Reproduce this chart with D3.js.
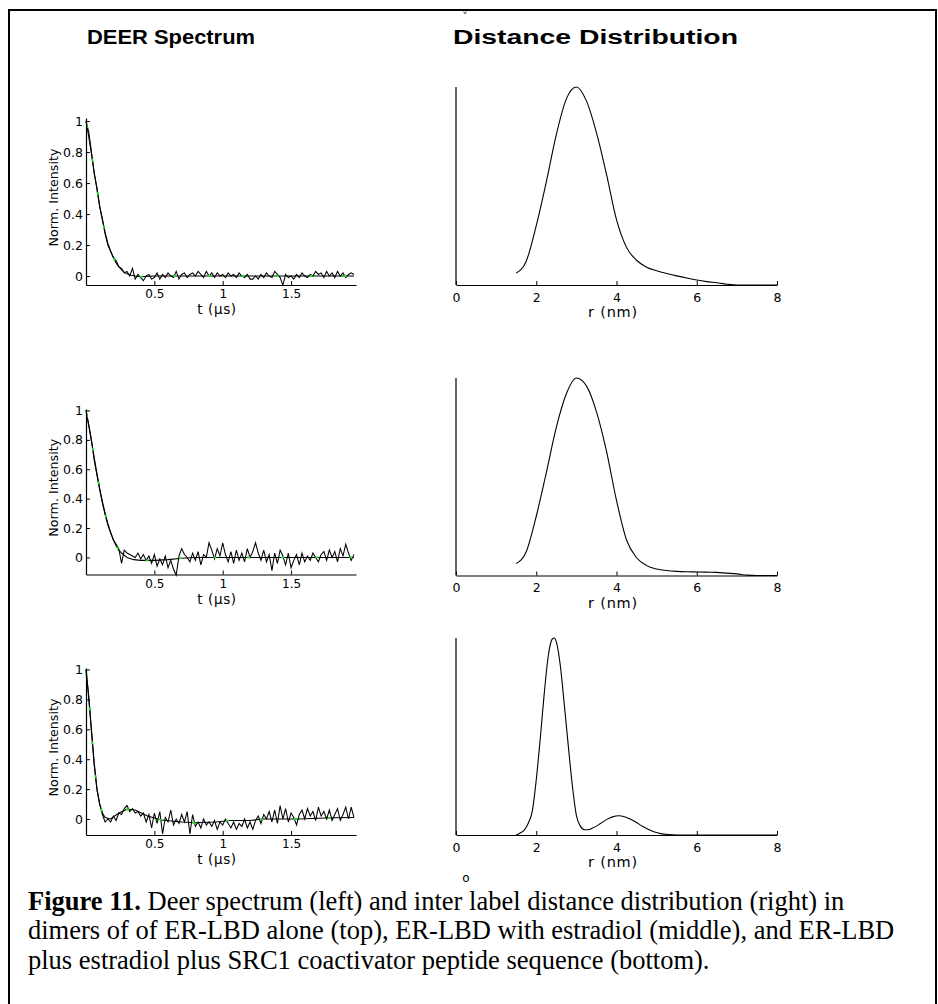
<!DOCTYPE html>
<html><head><meta charset="utf-8">
<script src="https://cdn.jsdelivr.net/npm/d3@7"></script>
<style>body{margin:0;background:#fff} svg{display:block}</style>
</head><body>
<svg id="c" width="938" height="1004"></svg>
<script>
// ---------- DATA ----------
const timeUs = [0,0.02,0.04,0.06,0.08,0.10,0.12,0.14,0.16,0.18,0.20,0.22,0.24,0.26,0.28,0.30,0.32,0.34,0.36,0.38,
0.40,0.42,0.44,0.46,0.48,0.50,0.52,0.54,0.56,0.58,0.60,0.62,0.64,0.66,0.68,0.70,0.72,0.74,0.76,0.78,
0.80,0.82,0.84,0.86,0.88,0.90,0.92,0.94,0.96,0.98,1.00,1.02,1.04,1.06,1.08,1.10,1.12,1.14,1.16,1.18,
1.20,1.22,1.24,1.26,1.28,1.30,1.32,1.34,1.36,1.38,1.40,1.42,1.44,1.46,1.48,1.50,1.52,1.54,1.56,1.58,
1.60,1.62,1.64,1.66,1.68,1.70,1.72,1.74,1.76,1.78,1.80,1.82,1.84,1.86,1.88,1.90,1.92,1.94,1.96];

const deerTop = [1.0,0.93,0.80,0.66,0.57,0.45,0.37,0.27,0.20,0.16,0.12,0.10,0.06,0.05,0.02,0.03,0.0,0.05,-0.02,0.01,
-0.01,-0.03,0.0,0.01,-0.02,-0.01,0.02,-0.02,0.01,-0.01,0.02,0.0,-0.01,0.03,-0.02,0.01,0.02,-0.01,0.01,0.02,
0.0,0.03,0.01,-0.01,0.03,0.0,0.02,-0.01,0.02,0.0,0.01,-0.01,0.02,0.0,0.01,-0.01,0.02,0.0,-0.01,0.01,
-0.02,-0.02,0.0,-0.02,0.01,-0.01,0.02,0.0,-0.01,0.03,0.01,-0.01,-0.06,0.01,-0.01,0.0,-0.02,0.01,-0.01,0.02,
0.0,-0.01,0.01,0.0,0.03,0.01,0.02,-0.01,0.03,0.0,0.02,-0.01,0.03,0.0,0.02,-0.01,0.01,0.02,0.01];

const deerMid = [1.0,0.90,0.80,0.66,0.56,0.46,0.37,0.29,0.22,0.17,0.12,0.09,0.06,-0.04,0.05,0.03,0.02,0.01,0.0,0.03,
-0.01,0.02,-0.02,0.01,-0.04,0.02,-0.06,-0.01,-0.05,0.01,-0.07,-0.02,-0.08,-0.12,0.01,0.06,0.02,0.0,-0.03,0.03,
-0.02,0.04,-0.05,0.02,0.0,0.10,0.05,-0.01,0.06,0.01,0.10,0.02,-0.03,0.04,-0.04,0.05,-0.02,0.03,-0.03,0.06,
0.0,0.04,0.10,0.03,-0.02,0.05,-0.03,0.02,-0.09,0.03,-0.04,0.05,0.01,-0.05,0.03,-0.07,-0.02,0.02,-0.05,0.03,
-0.03,0.01,-0.02,0.03,0.0,-0.03,0.02,0.04,-0.02,0.05,0.0,0.04,-0.03,0.06,0.01,0.09,0.03,-0.02,0.02];

const deerBot = [1.0,0.82,0.60,0.38,0.20,0.10,0.03,-0.02,0.0,-0.02,0.02,-0.01,0.04,0.03,0.07,0.09,0.05,0.07,0.04,0.05,
0.02,0.04,-0.02,0.03,-0.06,0.04,-0.03,0.05,-0.10,0.01,-0.02,0.06,-0.04,0.0,-0.03,0.03,-0.02,0.05,-0.10,0.03,
-0.05,-0.02,-0.06,0.0,-0.04,-0.02,-0.05,-0.01,-0.07,-0.02,-0.04,0.0,-0.03,-0.06,-0.02,-0.07,-0.03,-0.05,0.0,-0.06,
-0.02,-0.07,-0.01,0.02,-0.03,0.03,0.0,0.05,-0.02,0.06,-0.03,0.09,0.0,0.07,-0.02,0.04,0.01,-0.04,0.03,0.06,
0.0,0.07,0.02,0.05,-0.01,0.08,0.02,0.05,0.0,0.06,-0.01,0.03,0.07,-0.01,0.03,0.08,0.0,0.08,0.01];

const fitTopT = [0,0.02,0.04,0.06,0.08,0.10,0.12,0.14,0.16,0.18,0.20,0.22,0.24,0.26,0.28,0.30,0.33,0.36,0.40,0.50,1.96];
const fitTopV = [1.0,0.90,0.79,0.67,0.56,0.45,0.36,0.28,0.21,0.16,0.12,0.085,0.06,0.04,0.025,0.015,0.005,0.0,-0.005,0.0,0.0];

const fitMidT = [0,0.02,0.04,0.06,0.08,0.10,0.12,0.14,0.16,0.18,0.20,0.22,0.24,0.26,0.30,0.35,0.40,0.50,0.60,0.70,0.80,1.96];
const fitMidV = [1.0,0.90,0.79,0.68,0.57,0.47,0.38,0.30,0.23,0.17,0.12,0.08,0.05,0.03,0.0,-0.015,-0.02,-0.02,-0.015,-0.005,0.0,0.0];

const fitBotT = [0,0.02,0.04,0.06,0.08,0.10,0.12,0.14,0.18,0.24,0.30,0.36,0.45,0.55,0.70,0.80,0.95,1.05,1.20,1.30,1.55,1.80,1.96];
const fitBotV = [1.0,0.81,0.58,0.36,0.20,0.10,0.04,0.01,0.0,0.04,0.065,0.06,0.02,-0.007,-0.02,-0.025,-0.02,-0.01,-0.01,0.0,0.0,0.008,0.01];

const rTop = [1.5,1.75,2.0,2.25,2.5,2.75,3.0,3.25,3.5,3.75,4.0,4.25,4.5,4.75,5.0,5.25,5.5,5.75,6.0,6.25,6.5,6.75,7.0,7.25,7.5,7.75,8.0];
const pTop = [0.06,0.12,0.30,0.52,0.76,0.94,1.0,0.93,0.77,0.56,0.33,0.19,0.125,0.09,0.072,0.058,0.046,0.035,0.025,0.017,0.011,0.004,0.0,0.0,0.0,0.0,0.0];

const rMid = [1.5,1.75,2.0,2.25,2.5,2.75,3.0,3.25,3.5,3.75,4.0,4.25,4.5,4.75,5.0,5.25,5.5,5.75,6.0,6.25,6.5,6.75,7.0,7.25,7.5,7.75,8.0];
const pMid = [0.06,0.12,0.30,0.52,0.75,0.92,1.0,0.96,0.83,0.63,0.38,0.18,0.09,0.05,0.033,0.025,0.021,0.019,0.018,0.017,0.016,0.012,0.008,0.002,0.0,0.0,0.0];

const rBot = [1.5,1.6,1.7,1.8,1.9,2.0,2.1,2.2,2.3,2.4,2.45,2.5,2.6,2.7,2.8,2.9,3.0,3.1,3.2,3.3,3.4,3.5,3.6,3.75,3.9,4.05,4.2,4.35,4.5,4.65,4.8,4.95,5.1,5.3,5.5,6.0,8.0];
const pBot = [0.0,0.01,0.025,0.06,0.12,0.28,0.49,0.72,0.91,0.995,1.0,0.98,0.86,0.66,0.45,0.25,0.10,0.045,0.027,0.027,0.035,0.045,0.058,0.078,0.092,0.098,0.093,0.08,0.063,0.044,0.028,0.015,0.007,0.002,0.0,0.0,0.0];

const deerXTicks = [0.5, 1, 1.5];
const deerYTicks = [0, 0.2, 0.4, 0.6, 0.8, 1];
const distXTicks = [0, 2, 4, 6, 8];
const deerYLimits = [[-0.058, 1.02], [-0.116, 1.01], [-0.107, 1.01]];
const titles = ["DEER Spectrum", "Distance Distribution"];
const deerXLabel = "t (\u00b5s)", deerYLabel = "Norm. Intensity", distXLabel = "r (nm)";
const captionBold = "Figure 11.";
const captionLines = [
  " Deer spectrum (left) and inter label distance distribution (right) in",
  "dimers of of ER-LBD alone (top), ER-LBD with estradiol (middle), and ER-LBD",
  "plus estradiol plus SRC1 coactivator peptide sequence (bottom)."
];

// ---------- DRAW ----------
const svg = d3.select("#c");
const sans = "'DejaVu Sans', sans-serif";
const arial = "'Liberation Sans', Arial, sans-serif";

// frame
svg.append("path").attr("d","M9,1010 V10 H936 V1010").attr("fill","none").attr("stroke","#000").attr("stroke-width",2);

// titles
svg.append("text").attr("x",87).attr("y",44).attr("font-family",arial)
  .attr("font-weight","bold").attr("font-size",20)
  .attr("textLength",168).attr("lengthAdjust","spacingAndGlyphs").text(titles[0]);
svg.append("text").attr("x",453).attr("y",44).attr("font-family",arial)
  .attr("font-weight","bold").attr("font-size",20)
  .attr("textLength",285).attr("lengthAdjust","spacingAndGlyphs").text(titles[1]);
svg.append("text").attr("x",465).attr("y",22).attr("font-family",sans).attr("font-size",12)
  .attr("fill","#333").attr("text-anchor","middle").text("\u02c7");

const deerRows = [
  {data: deerTop, fitT: fitTopT, fitV: fitTopV, top: 118, bottom: 285},
  {data: deerMid, fitT: fitMidT, fitV: fitMidV, top: 409, bottom: 574.5},
  {data: deerBot, fitT: fitBotT, fitV: fitBotV, top: 668, bottom: 835}
];
const distRows = [
  {r: rTop, p: pTop, top: 87, bottom: 285},
  {r: rMid, p: pMid, top: 378, bottom: 575.5},
  {r: rBot, p: pBot, top: 638, bottom: 835}
];

function styleAxis(g, fs){
  g.selectAll("path.domain").attr("stroke","#000").attr("stroke-width",1.2);
  g.selectAll(".tick line").attr("stroke","#000");
  g.selectAll("text").attr("font-family",sans).attr("font-size",fs).attr("fill","#000");
}

deerRows.forEach((row, i) => {
  const x = d3.scaleLinear().domain([0, 1.975]).range([86, 356]);
  const y = d3.scaleLinear().domain(deerYLimits[i]).range([row.bottom, row.top]);
  const line = d3.line().x(d => x(d[0])).y(d => y(d[1]));
  const fitPts = row.fitT.map((t, k) => [t, row.fitV[k]]);
  const dataPts = timeUs.map((t, k) => [t, row.data[k]]);
  svg.append("path").attr("d", line(fitPts)).attr("fill","none").attr("stroke","#000").attr("stroke-width",1.1);
  svg.append("path").attr("d", line(dataPts)).attr("fill","none").attr("stroke","#000").attr("stroke-width",1.05);
  svg.append("path").attr("d", line(fitPts)).attr("fill","none").attr("stroke","#1ee01e").attr("stroke-width",1.8)
    .attr("stroke-dasharray","3 31").attr("stroke-dashoffset",-4);
  const gx = svg.append("g").attr("transform",`translate(0,${row.bottom})`)
    .call(d3.axisBottom(x).tickValues(deerXTicks).tickFormat(d3.format("")).tickSizeInner(-4).tickSizeOuter(0).tickPadding(4.5));
  styleAxis(gx, 12);
  const gy = svg.append("g").attr("transform",`translate(86,0)`)
    .call(d3.axisLeft(y).tickValues(deerYTicks).tickFormat(d3.format("")).tickSizeInner(-4).tickSizeOuter(0).tickPadding(3));
  styleAxis(gy, 12.5);
  svg.append("text").attr("x",217).attr("y",row.bottom+29).attr("text-anchor","middle")
    .attr("font-family",sans).attr("font-size",13.5).attr("letter-spacing",0.6).text(deerXLabel);
  const cy = (row.top+row.bottom)/2 - 4;
  svg.append("text").attr("transform",`translate(58,${cy}) rotate(-90)`).attr("text-anchor","middle")
    .attr("font-family",sans).attr("font-size",12.7).text(deerYLabel);
});

distRows.forEach((row) => {
  const x = d3.scaleLinear().domain([0, 8]).range([456, 777]);
  const y = d3.scaleLinear().domain([0, 1]).range([row.bottom, row.top]);
  const line = d3.line().x(d => x(d[0])).y(d => y(d[1])).curve(d3.curveMonotoneX);
  const pts = row.r.map((r, k) => [r, row.p[k]]);
  svg.append("path").attr("d", line(pts)).attr("fill","none").attr("stroke","#000").attr("stroke-width",1.1);
  const gx = svg.append("g").attr("transform",`translate(0,${row.bottom})`)
    .call(d3.axisBottom(x).tickValues(distXTicks).tickSizeInner(-4).tickSizeOuter(0).tickPadding(8));
  styleAxis(gx, 12.5);
  svg.append("line").attr("x1",456).attr("x2",456).attr("y1",row.top).attr("y2",row.bottom)
    .attr("stroke","#000").attr("stroke-width",1.2);
  svg.append("text").attr("x",613).attr("y",row.bottom+32).attr("text-anchor","middle")
    .attr("font-family",sans).attr("font-size",14.5).attr("letter-spacing",0.8).text(distXLabel);
});

svg.append("text").attr("x",466).attr("y",882).attr("text-anchor","middle")
  .attr("font-family",sans).attr("font-size",12).text("o");

// caption
const serif = "'Liberation Serif', 'Times New Roman', serif";
const cap = svg.append("g").attr("font-family",serif).attr("font-size",26.5);
const l1 = cap.append("text").attr("x",28).attr("y",910);
l1.append("tspan").attr("font-weight","bold").text(captionBold);
l1.append("tspan").text(captionLines[0]);
cap.append("text").attr("x",28).attr("y",939).text(captionLines[1]);
cap.append("text").attr("x",28).attr("y",969).text(captionLines[2]);
</script>
</body></html>
